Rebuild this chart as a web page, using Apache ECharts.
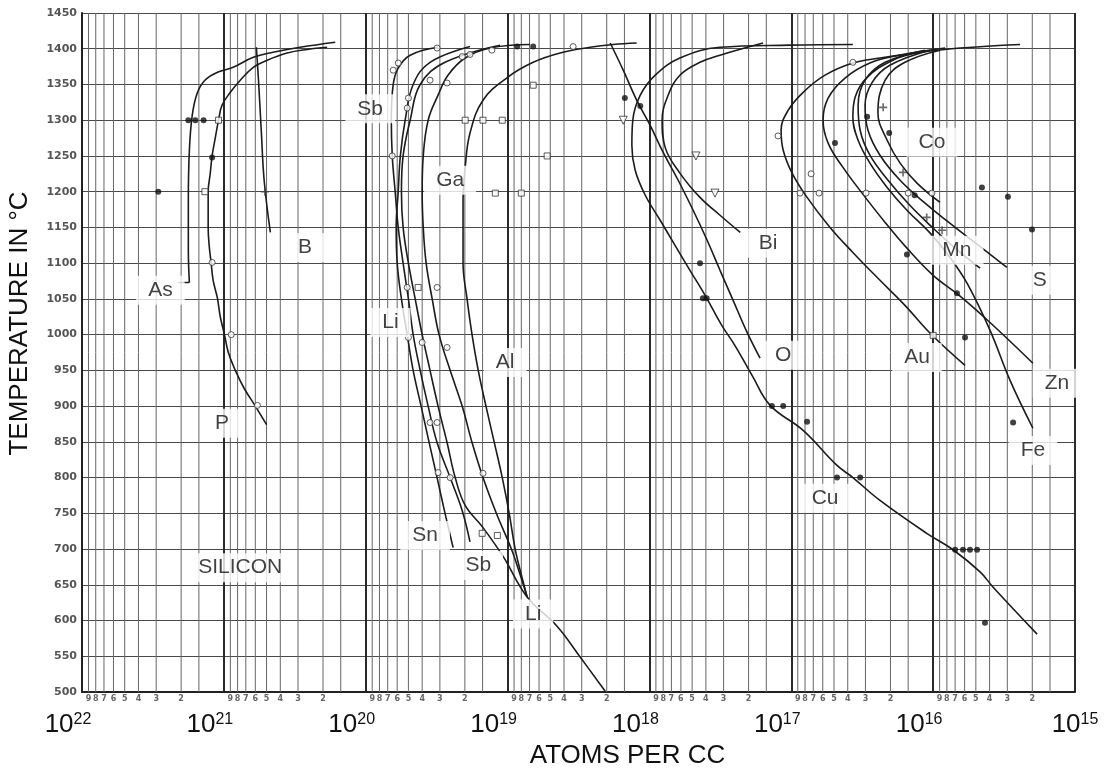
<!DOCTYPE html>
<html>
<head>
<meta charset="utf-8">
<title>Solid solubility of impurities in silicon</title>
<script src="https://cdn.jsdelivr.net/npm/echarts@6/dist/echarts.min.js"></script>
<style>
  html, body { margin: 0; padding: 0; background: #ffffff; }
  #chart { width: 1104px; height: 769px; }
</style>
</head>
<body>
<div id="chart"></div>
<script>
// Solid solubility of impurity elements in silicon versus temperature.
// Concentrations in atoms per cc, temperatures in degrees C.

// ---- axis ranges and ticks ----
const tempMin = 500;
const tempMax = 1450;
const tempStep = 50;
const concMin = 1e15;
const concMax = 1e22;
const minorMultipliers = [9, 8, 7, 6, 5, 4, 3, 2];   // labelled lines inside each decade
const extraMultipliers = [1.5];                      // unlabelled lines inside each decade

// ---- solubility curves: [atoms per cc, temperature] ----
const curveAs = [[1.75e21,1073],[1.78e21,1118],[1.78e21,1188],[1.75e21,1258],[1.67e21,1307],[1.54e21,1338],[1.36e21,1356],[1.11e21,1367],[8.6e20,1374],[6.2e20,1388],[4.5e20,1395],[2.9e20,1402],[1.64e20,1409]];
const leaderAs = [[1.75e21,1073],[2.09e21,1073]];
const curveP = [[5.0e20,874],[6.0e20,900],[7.2e20,925],[8.3e20,950],[9.3e20,975],[9.9e20,1000],[1.06e21,1025],[1.11e21,1051],[1.19e21,1076],[1.23e21,1101],[1.27e21,1125],[1.29e21,1150],[1.29e21,1175],[1.29e21,1200],[1.25e21,1224],[1.21e21,1250],[1.15e21,1275],[1.09e21,1300],[1.03e21,1321],[9.0e20,1339],[7.66e20,1356],[6.2e20,1374],[4.95e20,1384],[3.58e20,1394],[2.58e20,1399],[1.87e20,1402]];
const curveB = [[5.9e20,1402],[5.7e20,1356],[5.45e20,1286],[5.2e20,1216],[4.7e20,1143]];
const curveSb = [[3.1e19,1402],[4.86e19,1391],[5.9e19,1373],[6.4e19,1350],[6.6e19,1300],[6.5e19,1250],[6.2e19,1200],[5.9e19,1150],[5.45e19,1100],[5.0e19,1050],[4.63e19,1000],[4.13e19,950],[3.63e19,900],[3.14e19,849],[2.54e19,800],[2.09e19,754],[1.84e19,710]];
const curveSn = [[1.84e19,1403],[3.52e19,1381],[4.63e19,1350],[5.27e19,1300],[5.7e19,1250],[5.9e19,1200],[6.1e19,1150],[6.0e19,1100],[5.6e19,1050],[5.1e19,1000],[4.63e19,950],[4.07e19,900],[3.57e19,849],[3.14e19,800],[2.76e19,750],[2.42e19,702]];
const curveLi = [[1.13e19,1405],[2.76e19,1381],[4.13e19,1350],[4.86e19,1300],[5.45e19,1250],[5.6e19,1200],[5.45e19,1150],[5.0e19,1100],[4.48e19,1050],[4.0e19,1000],[3.52e19,950],[3.09e19,900],[2.67e19,849],[2.34e19,800],[1.99e19,761],[1.49e19,730],[1.07e19,689],[7.28e18,633],[4.48e18,592],[3.08e18,549],[2.05e18,501]];
const curveGa = [[6.95e18,1406],[1.33e19,1401],[1.99e19,1387],[2.63e19,1363],[3.09e19,1335],[3.63e19,1300],[3.93e19,1250],[4.0e19,1200],[3.93e19,1150],[3.75e19,1100],[3.4e19,1050],[3.04e19,1000],[2.54e19,950],[2.09e19,900],[1.78e19,849],[1.49e19,800],[1.2e19,750],[9.4e18,700],[8.15e18,664],[7.28e18,633]];
const curveAl = [[1.23e18,1408],[1.8e18,1406],[2.62e18,1402],[4.26e18,1394],[6.6e18,1381],[1.0e19,1360],[1.49e19,1328],[1.84e19,1282],[1.99e19,1234],[2.06e19,1188],[2.06e19,1100],[1.93e19,1050],[1.78e19,1000],[1.61e19,950],[1.42e19,900],[1.24e19,849],[1.09e19,800],[9.74e18,750],[8.84e18,700],[8.0e18,664],[7.28e18,633]];
const curveO = [[1.89e18,1408],[1.53e18,1370],[1.23e18,1328],[9.9e17,1293],[8.0e17,1255],[6.27e17,1216],[4.92e17,1174],[3.92e17,1132],[3.18e17,1090],[2.57e17,1048],[2.08e17,1006],[1.66e17,967]];
const curveCu = [[3.68e16,1406],[1.02e17,1405],[3.18e17,1402],[6.1e17,1387],[9.1e17,1363],[1.16e18,1335],[1.31e18,1300],[1.33e18,1265],[1.26e18,1230],[1.07e18,1195],[8.4e17,1160],[6.6e17,1125],[5.18e17,1090],[4.05e17,1055],[3.09e17,1013],[2.5e17,985],[1.89e17,943],[1.41e17,901],[8.25e16,866],[4.76e16,817],[3.68e16,800],[2.37e16,768],[1.11e16,722],[7.24e15,699],[4.67e15,668],[3.79e15,647],[1.85e15,581]];
const curveBi = [[1.58e17,1408],[3.18e17,1391],[4.4e17,1381],[6.1e17,1363],[7.38e17,1335],[8.14e17,1300],[7.75e17,1262],[6.1e17,1226],[4.4e17,1192],[3.18e17,1167],[2.29e17,1143]];
const curveAu = [[2.44e15,1406],[6.46e15,1401],[1.24e16,1395],[2.37e16,1387],[3.68e16,1380],[5.78e16,1363],[8.25e16,1339],[1.05e17,1314],[1.18e17,1286],[1.14e17,1258],[9.87e16,1226],[7.74e16,1192],[5.33e16,1150],[3.68e16,1115],[2.37e16,1076],[1.58e16,1041],[1.05e16,1002],[5.96e15,957]];
const curveZn = [[8.24e15,1401],[1.71e16,1391],[2.79e16,1380],[4.18e16,1359],[5.5e16,1331],[5.97e16,1300],[5.5e16,1268],[4.32e16,1234],[3.17e16,1198],[2.18e16,1157],[1.53e16,1121],[1.0e16,1083],[6.46e15,1054],[3.97e15,1017],[1.98e15,960]];
const curveFe = [[1.24e16,1395],[1.92e16,1384],[2.92e16,1360],[3.55e16,1332],[3.68e16,1304],[3.38e16,1272],[2.79e16,1240],[2.11e16,1206],[1.53e16,1174],[1.05e16,1142],[7.6e15,1108],[5.77e15,1072],[3.97e15,1006],[2.87e15,936],[1.98e15,869]];
const curveMn = [[1.14e16,1398],[2.18e16,1381],[3.02e16,1356],[3.38e16,1321],[3.27e16,1286],[2.79e16,1251],[2.08e16,1216],[1.46e16,1181],[1.0e16,1149],[7.0e15,1121],[4.67e15,1093]];
const curveS = [[1.05e16,1398],[2.02e16,1377],[2.69e16,1353],[3.02e16,1321],[2.88e16,1286],[2.37e16,1251],[1.71e16,1216],[1.14e16,1184],[7.0e15,1150],[4.31e15,1118],[3.02e15,1094]];
const curveCo = [[8.94e15,1398],[1.58e16,1381],[2.18e16,1356],[2.45e16,1310],[2.11e16,1272],[1.71e16,1240],[1.3e16,1212],[8.94e15,1185]];

// ---- measured points ----
const dotPoints = [[2.9e21,1200],[1.78e21,1300],[1.59e21,1300],[1.39e21,1300],[1.21e21,1248],[1.49e18,1331],[1.16e18,1320],[4.4e17,1100],[4.2e17,1051],[3.95e17,1051],[1.37e17,900],[1.14e17,900],[7.74e16,878],[4.76e16,800],[3.27e16,800],[7.0e15,699],[6.16e15,699],[5.5e15,699],[4.9e15,699],[4.31e15,597],[2.92e16,1305],[2.04e16,1282],[4.92e16,1268],[1.35e16,1195],[4.53e15,1206],[2.97e15,1193],[2.01e15,1147],[1.53e16,1112],[6.79e15,1058],[5.96e15,996],[2.73e15,877],[8.56e18,1403],[6.6e18,1403]];
const circlePoints = [[1.21e21,1101],[8.87e20,1000],[5.8e20,901],[6.4e19,1370],[5.9e19,1380],[3.14e19,1401],[2.09e19,1389],[1.84e19,1392],[1.29e19,1398],[3.45e18,1403],[2.67e19,1352],[3.52e19,1356],[5.0e19,1331],[5.1e19,1317],[6.5e19,1250],[5.1e19,1066],[3.14e19,1066],[5.0e19,996],[4.0e19,989],[2.67e19,982],[3.52e19,877],[3.14e19,877],[3.09e19,807],[2.54e19,800],[1.49e19,806],[3.68e16,1381],[1.24e17,1278],[2.97e16,1198],[1.02e16,1198],[8.67e16,1198],[6.37e16,1198],[7.25e16,1225],[1.5e16,1198]];
const squarePoints = [[1.09e21,1300],[1.36e21,1200],[1.99e19,1300],[1.49e19,1300],[1.09e19,1300],[1.22e19,1198],[8.0e18,1198],[5.26e18,1250],[6.6e18,1349],[1.51e19,722],[1.18e19,719],[4.27e19,1066],[1.0e16,999]];
const trianglePoints = [[1.53e18,1300],[4.7e17,1250],[3.45e17,1198]];
const crossPoints = [[5.13e20,1200],[2.25e16,1318],[1.63e16,1227],[1.11e16,1164],[8.65e15,1146]];

// ---- element names placed on the chart: [text, atoms per cc, temperature] ----
const elementLabels = [
  ['As', 2.8e21, 1062], ['P', 1.03e21, 876], ['B', 2.68e20, 1122],
  ['Sb', 9.3e19, 1316], ['Ga', 2.54e19, 1216], ['Li', 6.7e19, 1017],
  ['Al', 1.04e19, 961], ['Sn', 3.81e19, 719], ['Sb', 1.61e19, 677],
  ['Li', 6.6e18, 609], ['SILICON', 7.66e20, 674], ['Bi', 1.46e17, 1128],
  ['O', 1.14e17, 971], ['Cu', 5.78e16, 771], ['Co', 1.02e16, 1269],
  ['Mn', 6.8e15, 1118], ['S', 1.77e15, 1076], ['Au', 1.3e16, 968],
  ['Zn', 1.34e15, 932], ['Fe', 1.98e15, 838]
];

// ---- build the chart ----
const minorLines = [];
for (let e = 15; e < 22; e++) {
  minorMultipliers.forEach(m => minorLines.push([m * Math.pow(10, e), String(m)]));
  extraMultipliers.forEach(m => minorLines.push([m * Math.pow(10, e), '']));
}

const curves = [
  ['As', curveAs], ['P', curveP], ['B', curveB], ['Sb', curveSb], ['Sn', curveSn],
  ['Li', curveLi], ['Ga', curveGa], ['Al', curveAl], ['O', curveO], ['Cu', curveCu],
  ['Bi', curveBi], ['Au', curveAu], ['Zn', curveZn], ['Fe', curveFe], ['Mn', curveMn],
  ['S', curveS], ['Co', curveCo]
];

const inkColor = '#1c1c1c';
const labelFont = '"Liberation Sans", Arial, sans-serif';

const series = [];

// fine vertical rulings inside each decade, with their small digits under the axis
series.push({
  type: 'custom',
  name: 'rulings',
  silent: true,
  z: 1,
  clip: false,
  data: minorLines.map(d => [d[0], tempMin]),
  encode: { x: 0, y: 1 },
  renderItem: function (params, api) {
    const v = api.value(0);
    const bottom = api.coord([v, tempMin]);
    const top = api.coord([v, tempMax]);
    const digit = minorLines[params.dataIndex][1];
    return {
      type: 'group',
      children: [
        { type: 'line', shape: { x1: bottom[0], y1: bottom[1], x2: top[0], y2: top[1] },
          style: { stroke: '#666666', lineWidth: 1 } },
        { type: 'text', style: { text: digit, x: bottom[0], y: bottom[1] + 3, align: 'center',
          verticalAlign: 'top', font: 'bold 8px "DejaVu Sans"', fill: '#666666' } }
      ]
    };
  }
});

curves.forEach(([name, pts]) => {
  series.push({
    type: 'line', name: name, data: pts, smooth: 0.4, symbol: 'none', z: 3,
    lineStyle: { color: inkColor, width: 1.6 }
  });
});
series.push({
  type: 'line', name: 'As pointer', data: leaderAs, smooth: false, symbol: 'none', z: 3,
  lineStyle: { color: inkColor, width: 1.6 }
});

const markerBase = { type: 'scatter', z: 4, silent: true };
series.push(Object.assign({}, markerBase, { name: 'dots', data: dotPoints, symbol: 'circle', symbolSize: 6,
  itemStyle: { color: '#111111' } }));
series.push(Object.assign({}, markerBase, { name: 'circles', data: circlePoints, symbol: 'circle', symbolSize: 6,
  itemStyle: { color: '#ffffff', borderColor: '#333333', borderWidth: 1 } }));
series.push(Object.assign({}, markerBase, { name: 'squares', data: squarePoints, symbol: 'rect', symbolSize: 6,
  itemStyle: { color: '#ffffff', borderColor: '#333333', borderWidth: 1 } }));
series.push(Object.assign({}, markerBase, { name: 'triangles', data: trianglePoints, symbol: 'triangle',
  symbolRotate: 180, symbolSize: 8, itemStyle: { color: '#ffffff', borderColor: '#333333', borderWidth: 1 } }));
series.push(Object.assign({}, markerBase, { name: 'crosses', data: crossPoints,
  symbol: 'path://M4,0h2v4h4v2h-4v4h-2v-4h-4v-2h4z', symbolSize: 8, itemStyle: { color: '#444444' } }));

// element names on white boxes
series.push({
  type: 'scatter', name: 'names', silent: true, z: 6,
  symbolSize: 0,
  data: elementLabels.map(l => ({ name: l[0], value: [l[1], l[2]] })),
  label: {
    show: true, position: 'inside', formatter: p => p.name,
    fontFamily: labelFont, fontSize: 21, color: '#111111',
    backgroundColor: '#ffffff', padding: [4, 12]
  }
});

const option = {
  backgroundColor: '#ffffff',
  animation: false,
  grid: { left: 82, right: 29, top: 13, bottom: 77, outerBoundsMode: 'none', containLabel: false },
  xAxis: {
    type: 'log', logBase: 10, min: concMin, max: concMax, inverse: true, splitNumber: 7,
    name: 'ATOMS PER CC', nameLocation: 'middle', nameGap: 45,
    nameTextStyle: { fontFamily: labelFont, fontSize: 26, color: '#111111', padding: [0, 0, 0, 98] },
    axisLine: { show: true, lineStyle: { color: '#222222', width: 2 } },
    axisTick: { show: false },
    splitLine: { show: true, lineStyle: { color: '#2a2a2a', width: 2 } },
    axisLabel: {
      margin: 20,
      formatter: function (v) {
        const e = Math.round(Math.log10(v));
        return '{b|10}{s|' + e + '}' + (e > 15 ? '{g|}' : '');
      },
      rich: {
        b: { fontFamily: labelFont, fontSize: 26, color: '#111111' },
        s: { fontFamily: labelFont, fontSize: 16, color: '#111111', verticalAlign: 'top' },
        g: { width: 28 }
      }
    }
  },
  yAxis: {
    type: 'value', min: tempMin, max: tempMax, interval: tempStep,
    name: 'TEMPERATURE IN °C', nameLocation: 'middle', nameGap: 49, nameRotate: 90,
    nameTextStyle: { fontFamily: labelFont, fontSize: 26, color: '#111111', padding: [0, 0, 0, 58] },
    axisLine: { show: true, lineStyle: { color: '#222222', width: 2 } },
    axisTick: { show: false },
    splitLine: { show: true, lineStyle: { color: '#4a4a4a', width: 1 } },
    axisLabel: { margin: 5, formatter: v => String(v), fontFamily: '"DejaVu Sans"', fontWeight: 'bold',
      fontSize: 11, color: '#555555' }
  },
  series: series
};

const chart = echarts.init(document.getElementById('chart'));
chart.setOption(option);
</script>
</body>
</html>
